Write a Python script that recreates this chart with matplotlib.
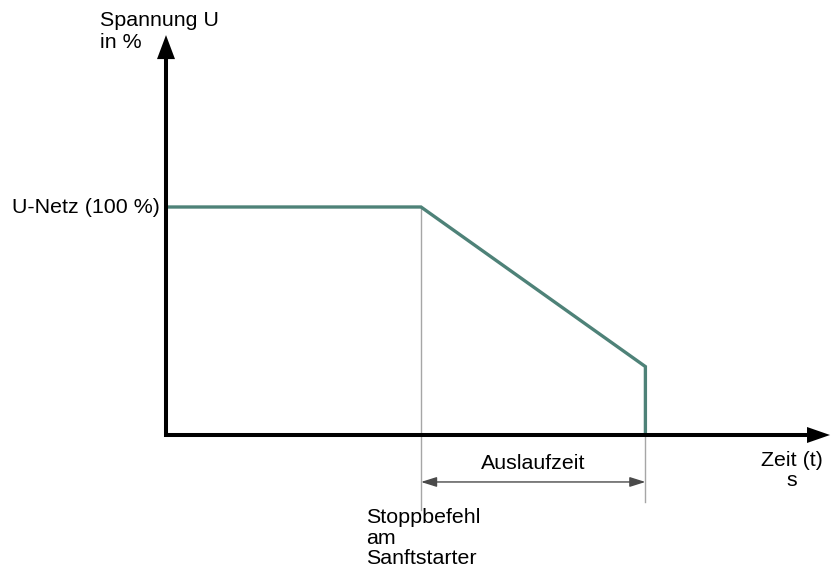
import matplotlib
matplotlib.use("Agg")
import matplotlib.pyplot as plt

plt.rcParams['font.family'] = ['Liberation Sans', 'DejaVu Sans']

# data (time in arbitrary units, voltage in %)
t_points = [0, 10, 18.8, 18.8]
u_points = [100, 100, 30, 0]
t_stop = 10
t_end = 18.8
t_axis_max = 26.04
u_axis_max = 175.4
u_nominal = 100

PX_T = 25.5   # px per time unit
PX_U = 2.28   # px per %
x0, y0 = 166, 435

fig = plt.figure(figsize=(8.4, 5.7), dpi=100)
ax = fig.add_axes([0, 0, 1, 1])
ax.set_xlim((0 - x0) / PX_T, (840 - x0) / PX_T)
ax.set_ylim((y0 - 570) / PX_U, (y0 - 0) / PX_U)
ax.axis('off')

green = '#4e8278'
grey = '#a6a6a6'

# grey helper lines
ax.plot([t_stop, t_stop], [u_nominal, -33], color=grey, lw=1.0, zorder=1)
ax.plot([t_end, t_end], [u_points[2], -29.5], color=grey, lw=1.0, zorder=1)

# main curve
ax.plot(t_points, u_points, color=green, lw=2.4, solid_joinstyle='miter', zorder=3)

# axes with arrow heads
hl_u = 24 / PX_U      # head length along U axis
hw_t = 9 / PX_T       # head half-width in t units
hl_t = 23 / PX_T
hw_u = 8 / PX_U
ax.plot([0, 0, t_axis_max - hl_t], [u_axis_max - hl_u, 0, 0], color='black', lw=2.9,
        solid_joinstyle='miter', solid_capstyle='butt', zorder=4)
ax.fill([-hw_t, hw_t, 0], [u_axis_max - hl_u, u_axis_max - hl_u, u_axis_max],
        color='black', lw=0, zorder=4)
ax.fill([t_axis_max - hl_t, t_axis_max - hl_t, t_axis_max], [-hw_u, hw_u, 0],
        color='black', lw=0, zorder=4)

# double arrow Auslaufzeit
ax.annotate('', xy=(t_stop, -20.6), xytext=(t_end, -20.6),
            arrowprops=dict(arrowstyle='<|-|>,head_length=0.95,head_width=0.3',
                            color='#4a4a4a', lw=1.0, shrinkA=0, shrinkB=0))

fs = 15.4
ax.text((t_stop + t_end) / 2, -12.7, 'Auslaufzeit', ha='center', va='center', fontsize=fs)
ax.text((100 - x0) / PX_T, (y0 - 11) / PX_U, 'Spannung U\nin %', ha='left', va='top',
        fontsize=fs, linespacing=1.2)
ax.text((160 - x0) / PX_T, u_nominal, 'U-Netz (100 %)', ha='right', va='center', fontsize=fs)
ax.text((792 - x0) / PX_T, (y0 - 451) / PX_U, 'Zeit (t)\ns', ha='center', va='top',
        fontsize=fs, linespacing=1.08)
ax.text((366 - x0) / PX_T, (y0 - 508) / PX_U, 'Stoppbefehl\nam\nSanftstarter', ha='left',
        va='top', fontsize=fs, linespacing=1.1)

fig.savefig('out.png', dpi=100)
